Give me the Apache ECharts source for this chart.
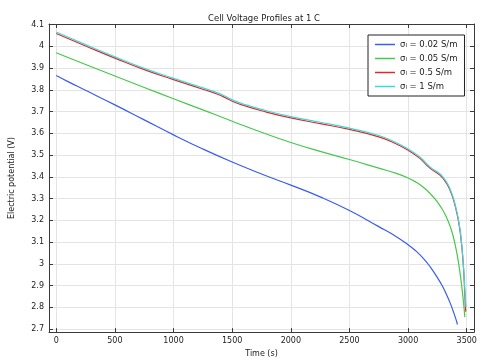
<!DOCTYPE html>
<html>
<head>
<meta charset="utf-8">
<script src="https://cdn.jsdelivr.net/npm/echarts@6/dist/echarts.min.js"></script>
<style>html,body{margin:0;padding:0;background:#fff}#c{width:483px;height:363px}</style>
</head>
<body>
<div id="c"></div>
<script>
const seriesNames = ['σₗ = 0.02 S/m', 'σₗ = 0.05 S/m', 'σₗ = 0.5 S/m', 'σₗ = 1 S/m'];
const seriesColors = ['#3a5cf0', '#46c84a', '#e02a2a', '#3adada'];

const tBlue = [0, 100, 250, 500, 750, 1000, 1250, 1500, 1750, 2000, 2250, 2500, 2750, 2900, 3000, 3065, 3130, 3190, 3243, 3290, 3328, 3360, 3384, 3405, 3421];
const vBlue = [3.866, 3.838, 3.798, 3.731, 3.662, 3.593, 3.528, 3.468, 3.413, 3.362, 3.308, 3.245, 3.171, 3.125, 3.088, 3.060, 3.025, 2.985, 2.942, 2.900, 2.858, 2.818, 2.783, 2.750, 2.721];

const tGreen = [0, 100, 250, 500, 750, 1000, 1250, 1500, 1750, 2000, 2250, 2500, 2750, 2900, 3000, 3070, 3130, 3190, 3243, 3290, 3328, 3360, 3384, 3410, 3427, 3445, 3460, 3472, 3480, 3484];
const vGreen = [3.971, 3.949, 3.917, 3.864, 3.811, 3.759, 3.708, 3.656, 3.605, 3.558, 3.517, 3.480, 3.440, 3.416, 3.395, 3.375, 3.352, 3.322, 3.289, 3.252, 3.213, 3.170, 3.128, 3.065, 3.015, 2.950, 2.885, 2.825, 2.780, 2.755];

const tRed = [0, 250, 500, 750, 1000, 1250, 1375, 1450, 1500, 1600, 1750, 2000, 2250, 2500, 2750, 2900, 3000, 3100, 3186, 3271, 3328, 3360, 3384, 3405, 3425, 3442, 3455, 3466, 3475, 3482, 3488, 3492];
const vRed = [4.059, 4.002, 3.946, 3.893, 3.847, 3.803, 3.780, 3.762, 3.748, 3.728, 3.704, 3.671, 3.645, 3.618, 3.584, 3.551, 3.522, 3.485, 3.440, 3.408, 3.370, 3.335, 3.300, 3.258, 3.210, 3.155, 3.095, 3.030, 2.960, 2.880, 2.810, 2.780];

const tCyan = [0, 250, 500, 750, 1000, 1250, 1375, 1450, 1500, 1600, 1750, 2000, 2250, 2500, 2750, 2900, 3000, 3100, 3186, 3271, 3328, 3360, 3384, 3405, 3425, 3442, 3455, 3466, 3475, 3483, 3490, 3494];
const vCyan = [4.066, 4.008, 3.952, 3.899, 3.853, 3.809, 3.786, 3.768, 3.754, 3.734, 3.710, 3.677, 3.651, 3.624, 3.590, 3.557, 3.528, 3.491, 3.446, 3.414, 3.376, 3.341, 3.306, 3.264, 3.216, 3.161, 3.101, 3.036, 2.966, 2.890, 2.830, 2.800];

const xTicks = [0, 500, 1000, 1500, 2000, 2500, 3000, 3500];
const yTicks = [2.7, 2.8, 2.9, 3, 3.1, 3.2, 3.3, 3.4, 3.5, 3.6, 3.7, 3.8, 3.9, 4, 4.1];

const pairs = (t, v) => t.map((x, i) => [x, v[i]]);
const allT = [tBlue, tGreen, tRed, tCyan];
const allV = [vBlue, vGreen, vRed, vCyan];

const FONT = 'DejaVu Sans';
const frameColor = '#3a3a3a';
const gridColor = '#e4e4e4';
const txt = '#222';

function xAxisDef(pos, show) {
  return {
    type: 'value', position: pos, min: -62, max: 3562,
    axisLine: { show: true, onZero: false, lineStyle: { color: frameColor, width: 1 } },
    axisTick: { show: true, inside: true, length: 4, customValues: xTicks, lineStyle: { color: frameColor } },
    axisLabel: { show: show, customValues: xTicks, margin: 5, fontSize: 8, fontFamily: FONT, color: txt,
      formatter: v => String(v) },
    splitLine: { show: show, lineStyle: { color: gridColor, width: 1 } },
    name: show ? 'Time (s)' : '', nameLocation: 'middle', nameGap: 13,
    nameTextStyle: { fontSize: 8, fontFamily: FONT, color: txt }
  };
}
function yAxisDef(pos, show) {
  return {
    type: 'value', position: pos, min: 2.686, max: 4.103,
    axisLine: { show: true, onZero: false, lineStyle: { color: frameColor, width: 1 } },
    axisTick: { show: true, inside: true, length: 4, customValues: yTicks, lineStyle: { color: frameColor } },
    axisLabel: { show: show, customValues: yTicks, margin: 5, fontSize: 8, fontFamily: FONT, color: txt,
      formatter: v => String(v) },
    splitLine: { show: show, lineStyle: { color: gridColor, width: 1 } },
    name: show ? 'Electric potential (V)' : '', nameLocation: 'middle', nameGap: 33,
    nameTextStyle: { fontSize: 8, fontFamily: FONT, color: txt }
  };
}

const chart = echarts.init(document.getElementById('c'), null, { renderer: 'canvas' });
chart.setOption({
  animation: false,
  backgroundColor: '#fff',
  title: {
    text: 'Cell Voltage Profiles at 1 C', left: 259, top: 9, textAlign: 'center',
    textStyle: { fontSize: 8.5, fontWeight: 'normal', fontFamily: FONT, color: txt }
  },
  grid: { left: 47, right: 9, top: 24, bottom: 28, containLabel: false },
  xAxis: [xAxisDef('bottom', true), xAxisDef('top', false)],
  yAxis: [yAxisDef('left', true), yAxisDef('right', false)],
  legend: {
    orient: 'vertical', left: 368, top: 35,
    padding: [5, 7, 5, 7], itemWidth: 20, itemHeight: 1.5, itemGap: 5, icon: 'rect',
    borderColor: '#222', borderWidth: 1, backgroundColor: '#fff',
    textStyle: { fontSize: 8.5, fontFamily: FONT, color: txt, lineHeight: 9 },
    data: seriesNames
  },
  series: seriesNames.map((n, i) => ({
    name: n, type: 'line', data: pairs(allT[i], allV[i]),
    smooth: 0.5, symbol: 'none', showSymbol: false,
    lineStyle: { color: seriesColors[i], width: 1.2 },
    itemStyle: { color: seriesColors[i] },
    xAxisIndex: 0, yAxisIndex: 0
  }))
});
</script>
</body>
</html>
